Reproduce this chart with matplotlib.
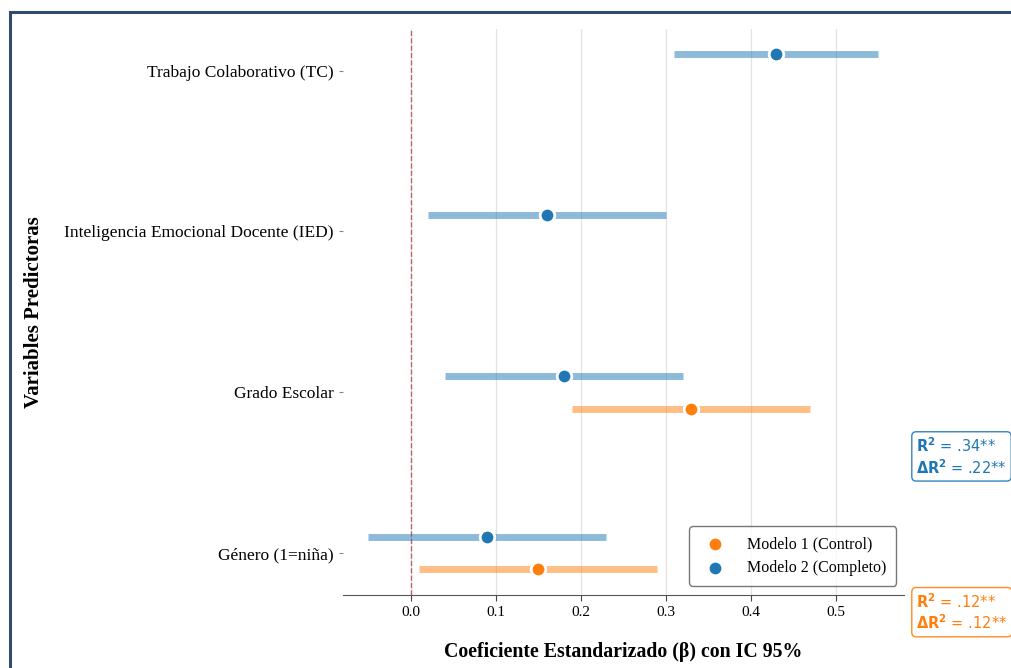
import matplotlib.pyplot as plt
from matplotlib.patches import Rectangle
import numpy as np

# datos
variables = ['Género (1=niña)', 'Grado Escolar',
             'Inteligencia Emocional Docente (IED)', 'Trabajo Colaborativo (TC)']
m1_pos = [0, 1]
m1_beta = [0.15, 0.33]
m1_lo = [0.01, 0.19]
m1_hi = [0.29, 0.47]
m2_pos = [0, 1, 2, 3]
m2_beta = [0.09, 0.18, 0.16, 0.43]
m2_lo = [-0.05, 0.04, 0.02, 0.31]
m2_hi = [0.23, 0.32, 0.30, 0.55]
r2_m1 = ['.12', '.12']
r2_m2 = ['.34', '.22']

c1 = '#ff7f0e'
c2 = '#1f77b4'
off = 0.1

plt.rcParams['font.family'] = ['Liberation Serif', 'DejaVu Serif']

fig = plt.figure(figsize=(10.11, 6.68), dpi=100)
ax = fig.add_axes([0.339, 0.109, 0.555, 0.848])


def draw(pos, beta, lo, hi, dy, color, label):
    y = np.array(pos) + dy
    ax.hlines(y, lo, hi, color=color, lw=5, alpha=0.5, zorder=2)
    ax.scatter(beta, y, s=110, color=color, edgecolor='white', linewidth=2,
               zorder=3, label=label)


draw(m1_pos, m1_beta, m1_lo, m1_hi, -off, c1, 'Modelo 1 (Control)')
draw(m2_pos, m2_beta, m2_lo, m2_hi, off, c2, 'Modelo 2 (Completo)')

ax.axvline(0, color='#b8404f', ls='--', lw=1, alpha=0.8, zorder=1)

ax.set_yticks(range(len(variables)))
ax.set_yticklabels(variables, fontsize=12.5)
ax.tick_params(axis='x', labelsize=11, length=4, color='#444444')
ax.tick_params(axis='y', length=3, color='#888888')
ax.set_xticks([0, 0.1, 0.2, 0.3, 0.4, 0.5])
ax.grid(axis='x', color='#e3e3e3', lw=0.9)
ax.set_axisbelow(True)
for s in ['top', 'right', 'left']:
    ax.spines[s].set_visible(False)
ax.spines['bottom'].set_color('#555555')

ax.set_xlabel('Coeficiente Estandarizado (β) con IC 95%', fontsize=14.3,
              fontweight='bold', labelpad=17)
ax.set_ylabel('Variables Predictoras', fontsize=15, fontweight='bold')
ax.yaxis.set_label_coords(-0.532, 0.5)

leg = ax.legend(loc='lower right', fontsize=11.5, frameon=True, fancybox=True,
                edgecolor='#555555', borderpad=0.6, handletextpad=1.0,
                bbox_to_anchor=(1.0, 0.003))
leg.get_frame().set_linewidth(1.0)

box_txt = r'$\mathbf{R^2}$ = %s**' + '\n' + r'$\mathbf{\Delta R^2}$ = %s**'
ax.text(1.022, 0.245, box_txt % (r2_m2[0], r2_m2[1]),
        transform=ax.transAxes, fontsize=10.5, color=c2, va='center', ha='left',
        family='DejaVu Sans',
        bbox=dict(boxstyle='round,pad=0.3', facecolor='white', edgecolor=c2, alpha=0.9))
ax.text(1.022, -0.03, box_txt % (r2_m1[0], r2_m1[1]),
        transform=ax.transAxes, fontsize=10.5, color=c1, va='center', ha='left',
        family='DejaVu Sans',
        bbox=dict(boxstyle='round,pad=0.3', facecolor='white', edgecolor=c1, alpha=0.9))

# marco del documento
fig.patches.append(Rectangle((10 / 1011, -0.1), 1.2, 1.1 - 12 / 668,
                             transform=fig.transFigure, fill=False,
                             edgecolor='#2f4b6e', lw=2.2))

fig.savefig('out.png', dpi=100)
